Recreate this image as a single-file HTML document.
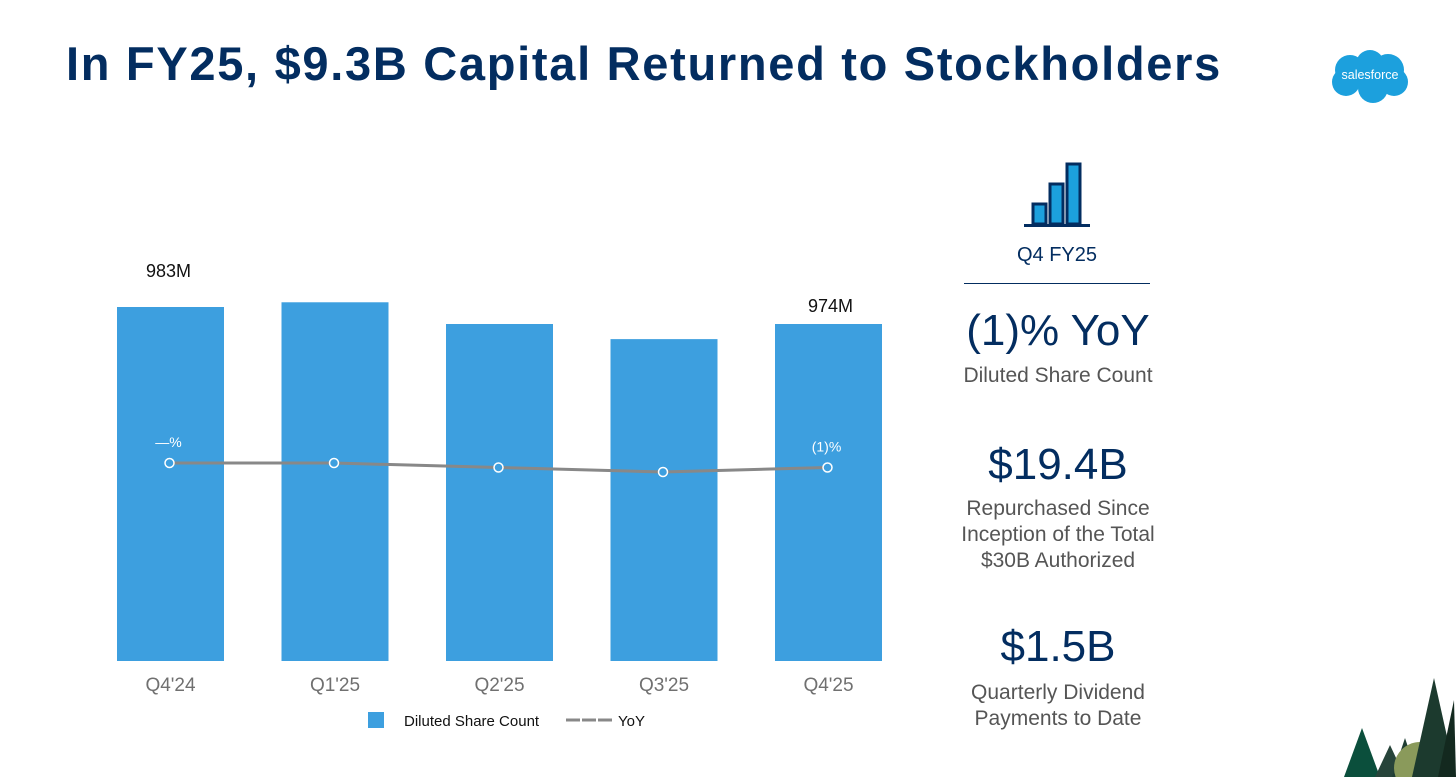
<!DOCTYPE html>
<html><head><meta charset="utf-8"><style>
body{margin:0;width:1456px;height:777px;background:#fff;position:relative;overflow:hidden;font-family:"Liberation Sans",sans-serif}
.t{position:absolute;white-space:nowrap}
</style></head><body>
<div class="t" style="left:66px;top:36px;font-size:47px;font-weight:bold;color:#032d60;letter-spacing:1.7px">In FY25, $9.3B Capital Returned to Stockholders</div>
<svg style="position:absolute;left:1328px;top:48px" width="84" height="58" viewBox="0 0 84 58">
<g fill="#1ca0dd"><circle cx="22" cy="22" r="15"/><circle cx="42" cy="16" r="14"/><circle cx="60" cy="22" r="16"/><circle cx="18" cy="34" r="14"/><circle cx="45" cy="40" r="15"/><circle cx="66" cy="34" r="14"/></g>
<text x="42" y="31" font-size="12.5" fill="#fff" text-anchor="middle" font-family="Liberation Sans">salesforce</text></svg>
<svg id="chart" style="position:absolute;left:0;top:0" width="960" height="777"></svg>
<svg style="position:absolute;left:1022px;top:160px" width="70" height="70">
<rect x="11" y="44" width="13" height="20" fill="#1ca0dd" stroke="#032d60" stroke-width="3"/>
<rect x="28" y="24" width="13" height="40" fill="#1ca0dd" stroke="#032d60" stroke-width="3"/>
<rect x="45" y="4" width="13" height="60" fill="#1ca0dd" stroke="#032d60" stroke-width="3"/>
<rect x="2" y="64" width="66" height="3" fill="#032d60"/></svg>
<div class="t" style="left:964px;width:186px;text-align:center;top:244px;font-size:20px;color:#032d60">Q4 FY25</div>
<div style="position:absolute;left:964px;top:283px;width:186px;height:1px;background:#032d60"></div>
<div class="t" style="left:900px;width:316px;text-align:center;top:306px;font-size:44px;color:#032d60">(1)% YoY</div>
<div class="t" style="left:900px;width:316px;text-align:center;top:364px;font-size:21px;color:#555">Diluted Share Count</div>
<div class="t" style="left:900px;width:316px;text-align:center;top:440px;font-size:44px;color:#032d60">$19.4B</div>
<div class="t" style="left:900px;width:316px;text-align:center;top:496px;font-size:21px;color:#555;line-height:26px;white-space:normal">Repurchased Since<br>Inception of the Total<br>$30B Authorized</div>
<div class="t" style="left:900px;width:316px;text-align:center;top:622px;font-size:44px;color:#032d60">$1.5B</div>
<div class="t" style="left:900px;width:316px;text-align:center;top:680px;font-size:21px;color:#555;line-height:26px;white-space:normal">Quarterly Dividend<br>Payments to Date</div>
<svg style="position:absolute;left:1330px;top:660px" width="126" height="117">
<polygon points="32,68 14,117 50,117" fill="#0b4f3c"/><polygon points="60,85 45,117 75,117" fill="#27443a"/><polygon points="75,78 62,117 88,117" fill="#1f3d33"/>
<circle cx="90" cy="108" r="26" fill="#8a9a5b"/><polygon points="104,18 82,117 126,117" fill="#1c3a2e"/><polygon points="124,40 108,117 126,117" fill="#13291f"/></svg>
<script>
const categories=["Q4'24","Q1'25","Q2'25","Q3'25","Q4'25"];
const shareCounts=[983,985.5,974,966,974];
const shareLabels=["983M","","","","974M"];
const yoyValues=[0,0,-1,-2,-1];
const yoyLabels=["—%","","","","(1)%"];
const svg=document.getElementById('chart');
const NS='http://www.w3.org/2000/svg';
const x=i=>170.5+i*164.5;
const yBar=v=>661-(v-795.6)*1.889;
const yLine=v=>463-v*4.5;
function mk(t,a){const e=document.createElementNS(NS,t);for(const k in a)e.setAttribute(k,a[k]);svg.appendChild(e);return e;}
categories.forEach((c,i)=>{
 const r=mk('rect',{x:x(i)-53.5,y:yBar(shareCounts[i]),width:107,height:661-yBar(shareCounts[i]),fill:'#3d9fdf'});
 
 
 const t=mk('text',{x:x(i),y:691,'font-size':19,fill:'#707070','text-anchor':'middle','font-family':'Liberation Sans'});t.textContent=c;
 
 
 if(shareLabels[i]){const l=mk('text',{x:x(i)+(i==0?-2:2),y:i==0?277:312,'font-size':18,fill:'#111','text-anchor':'middle','font-family':'Liberation Sans'});l.textContent=shareLabels[i];
 
 }
});
const pl=mk('polyline',{points:yoyValues.map((v,i)=>x(i)-1+','+yLine(v)).join(' '),fill:'none',stroke:'#888',"stroke-width":3});


yoyValues.forEach((v,i)=>{
 const c=mk('circle',{cx:x(i)-1,cy:yLine(v),r:4.5,fill:'#3d9fdf',stroke:'#fff','stroke-width':1.5});
 
 
 if(yoyLabels[i]){const l=mk('text',{x:x(i)-2,y:yLine(v)-16,'font-size':14,fill:'#fff','text-anchor':'middle','font-family':'Liberation Sans'});l.textContent=yoyLabels[i];
 
 }
});
const lg1=mk('rect',{x:368,y:712,width:16,height:16,fill:'#3d9fdf'});


const lt1=mk('text',{x:404,y:726,'font-size':15,fill:'#111','font-family':'Liberation Sans'});lt1.textContent='Diluted Share Count';


const lg2=mk('line',{x1:566,y1:720,x2:612,y2:720,stroke:'#888','stroke-width':3,'stroke-dasharray':'14,2'});


const lt2=mk('text',{x:618,y:726,'font-size':15,fill:'#111','font-family':'Liberation Sans'});lt2.textContent='YoY';


</script>
</body></html>
